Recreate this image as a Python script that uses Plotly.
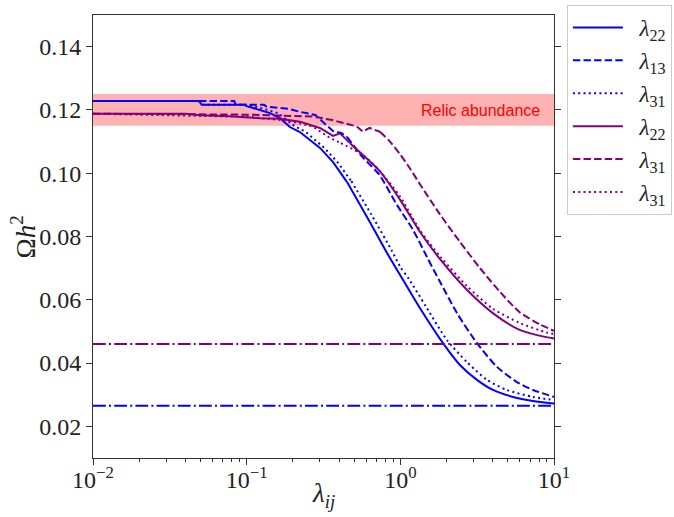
import plotly.graph_objects as go

# ---------------- data ----------------
blue_solid_x = [0.01, 0.049, 0.051, 0.097, 0.10, 0.122, 0.142, 0.165, 0.191, 0.222, 0.30, 0.365,
                0.45, 0.607, 0.819, 1.04, 1.34, 1.895, 2.443, 3.153, 4.01, 5.41, 7.3, 10.0]
blue_solid_y = [0.1228, 0.1228, 0.1216, 0.1216, 0.1212, 0.1200, 0.1190, 0.1174, 0.1146, 0.1130, 0.1080, 0.1035,
                0.0972, 0.0862, 0.0748, 0.0663, 0.0574, 0.0463, 0.0394, 0.0347, 0.0315, 0.0293, 0.0280, 0.0272]

blue_dashed_x = [0.01, 0.083, 0.085, 0.13, 0.135, 0.165, 0.19, 0.222, 0.28, 0.33, 0.37, 0.41, 0.45,
                 0.57, 0.73, 0.95, 1.21, 1.491, 1.83, 2.337, 3.153, 4.256, 5.74, 7.3, 10.0]
blue_dashed_y = [0.1228, 0.1228, 0.1216, 0.1216, 0.1210, 0.1207, 0.1203, 0.1194, 0.1184, 0.1152, 0.1131, 0.1128, 0.1115,
                 0.1050, 0.0995, 0.0900, 0.0821, 0.0735, 0.0653, 0.0558, 0.0463, 0.0388, 0.0340, 0.0315, 0.0293]

blue_dotted_x = [0.01, 0.049, 0.051, 0.10, 0.13, 0.16, 0.178, 0.206, 0.24, 0.32, 0.39, 0.48, 0.65,
                 0.88, 1.0, 1.14, 1.47, 2.01, 2.715, 3.66, 4.94, 7.3, 10.0]
blue_dotted_y = [0.1228, 0.1228, 0.1216, 0.1216, 0.1203, 0.1190, 0.1172, 0.1148, 0.1132, 0.1080, 0.1035, 0.0975, 0.0868,
                 0.0755, 0.0704, 0.0665, 0.0578, 0.0473, 0.0403, 0.0347, 0.0315, 0.0293, 0.0283]

purple_solid_x = [0.01, 0.040, 0.05, 0.078, 0.122, 0.165, 0.222, 0.30, 0.365, 0.405, 0.47, 0.57, 0.73,
                  1.0, 1.34, 1.83, 2.72, 4.0, 5.97, 8.9, 10.0]
purple_solid_y = [0.1188, 0.1188, 0.1183, 0.1180, 0.1174, 0.1172, 0.1163, 0.1143, 0.1118, 0.1126, 0.1095, 0.1058, 0.1008,
                  0.0915, 0.0815, 0.0726, 0.0631, 0.0558, 0.0505, 0.0482, 0.0478]

purple_dashed_x = [0.01, 0.105, 0.27, 0.36, 0.52, 0.57, 0.63, 0.737, 0.856, 0.995, 1.156, 1.342, 1.811,
                   2.443, 3.299, 4.452, 6.006, 8.11, 10.0]
purple_dashed_y = [0.1188, 0.1185, 0.1179, 0.1168, 0.1148, 0.1131, 0.1143, 0.1131, 0.1100, 0.1060, 0.1015, 0.0965, 0.0870,
                   0.0783, 0.0700, 0.0625, 0.0560, 0.0522, 0.0502]

purple_dotted_x = [0.01, 0.105, 0.19, 0.27, 0.35, 0.41, 0.57, 0.73, 1.0, 1.34, 1.83, 2.72, 4.0,
                   5.97, 8.9, 10.0]
purple_dotted_y = [0.1188, 0.1178, 0.1165, 0.1147, 0.1111, 0.1095, 0.1058, 0.1008, 0.0925, 0.0820, 0.0735, 0.0643, 0.0572,
                   0.0527, 0.0497, 0.0492]

legend_labels = ["<i>λ</i><sub>22</sub>", "<i>λ</i><sub>13</sub>", "<i>λ</i><sub>31</sub>",
                 "<i>λ</i><sub>22</sub>", "<i>λ</i><sub>31</sub>", "<i>λ</i><sub>31</sub>"]

relic_low, relic_high = 0.115, 0.125
blue_limit = 0.0265
purple_limit = 0.046
x_limits = [0.01, 10.0]
y_limits = [0.01, 0.15]
y_ticks = [0.02, 0.04, 0.06, 0.08, 0.10, 0.12, 0.14]
x_ticks = [0.01, 0.1, 1.0, 10.0]
x_tick_text = ["10<sup>−2</sup>", "10<sup>−1</sup>", "10<sup>0</sup>", "10<sup>1</sup>"]
x_minor_ticks = [m * d for d in (0.01, 0.1, 1.0) for m in range(2, 10)]

BLUE = "#0000ff"
PURPLE = "#800080"
SERIF = "Liberation Serif"
DASH = "7.4px,3.2px"
DOT = "2px,3.3px"
DASHDOT = "12.8px,3.2px,2px,3.2px"
LW = 2

fig = go.Figure()

# relic band
fig.add_trace(go.Scatter(x=[x_limits[0], x_limits[1], x_limits[1], x_limits[0], x_limits[0]],
                         y=[relic_low, relic_low, relic_high, relic_high, relic_low],
                         fill="toself", fillcolor="rgba(255,0,0,0.3)", line=dict(width=0),
                         mode="lines", showlegend=False, hoverinfo="skip"))

# (x, y, colour, dash, label, lambda where the smooth fall-off begins)
series = [
    (blue_solid_x, blue_solid_y, BLUE, "solid", legend_labels[0], 0.45),
    (blue_dashed_x, blue_dashed_y, BLUE, DASH, legend_labels[1], 0.45),
    (blue_dotted_x, blue_dotted_y, BLUE, DOT, legend_labels[2], 0.48),
    (purple_solid_x, purple_solid_y, PURPLE, "solid", legend_labels[3], 0.47),
    (purple_dashed_x, purple_dashed_y, PURPLE, DASH, legend_labels[4], 0.737),
    (purple_dotted_x, purple_dotted_y, PURPLE, DOT, legend_labels[5], 0.41),
]
for i, (xs, ys, c, d, name, split) in enumerate(series):
    k = xs.index(split)
    # stepped plateau: straight segments
    fig.add_trace(go.Scatter(x=xs[:k + 1], y=ys[:k + 1], mode="lines", name="&nbsp;&nbsp;" + name,
                             legendgroup=f"g{i}", showlegend=True,
                             line=dict(color=c, width=LW, dash=d)))
    # smooth fall-off
    fig.add_trace(go.Scatter(x=xs[k:], y=ys[k:], mode="lines", legendgroup=f"g{i}", showlegend=False,
                             line=dict(color=c, width=LW, dash=d, shape="spline", smoothing=0.7)))

# horizontal limits
fig.add_trace(go.Scatter(x=x_limits, y=[purple_limit, purple_limit], mode="lines", showlegend=False,
                         line=dict(color=PURPLE, width=LW, dash=DASHDOT)))
fig.add_trace(go.Scatter(x=x_limits, y=[blue_limit, blue_limit], mode="lines", showlegend=False,
                         line=dict(color=BLUE, width=LW, dash=DASHDOT)))

fig.add_annotation(x=0.975, y=0.1197, xref="paper", yref="y",
                   text="Relic abundance", showarrow=False, xanchor="right", yanchor="middle",
                   font=dict(family="Liberation Sans", size=16, color="#ff0000"))

# axis titles
fig.add_annotation(x=0.5, y=-0.083, xref="paper", yref="paper", text="<i>λ</i><sub><i>ij</i></sub>",
                   showarrow=False, xanchor="center", yanchor="middle",
                   font=dict(family=SERIF, size=27, color="#222"))
fig.add_annotation(x=-0.152, y=0.5, xref="paper", yref="paper", text="Ω<i>h</i><sup>2</sup>",
                   showarrow=False, xanchor="center", yanchor="middle", textangle=-90,
                   font=dict(family=SERIF, size=27, color="#222"))

fig.update_layout(
    width=674, height=517,
    margin=dict(l=93, r=120, t=15, b=59, autoexpand=False),
    paper_bgcolor="white", plot_bgcolor="white",
    showlegend=True,
    legend=dict(x=1.028, y=1.0226, xanchor="left", yanchor="top",
                bordercolor="#cccccc", borderwidth=1, bgcolor="white",
                font=dict(family=SERIF, size=23, color="#222"),
                itemwidth=50, tracegroupgap=0, traceorder="normal"),
    xaxis=dict(type="log", range=[-2, 1], showline=True, linecolor="#333", linewidth=1, mirror=True,
               ticks="outside", ticklen=6, tickcolor="#333", showgrid=False, zeroline=False,
               tickvals=x_ticks, ticktext=x_tick_text, ticklabelstandoff=-6,
               tickfont=dict(family=SERIF, size=24, color="#222"),
               minor=dict(ticks="outside", ticklen=3, tickcolor="#333", showgrid=False,
                          tickmode="array", tickvals=x_minor_ticks)),
    yaxis=dict(range=y_limits, showline=True, linecolor="#333", linewidth=1, mirror="ticks",
               ticks="outside", ticklen=6, tickcolor="#333", showgrid=False, zeroline=False,
               tickvals=y_ticks, ticktext=[f"{v:.2f}" for v in y_ticks],
               tickfont=dict(family=SERIF, size=24, color="#222")),
)

fig.write_html("out.html")
